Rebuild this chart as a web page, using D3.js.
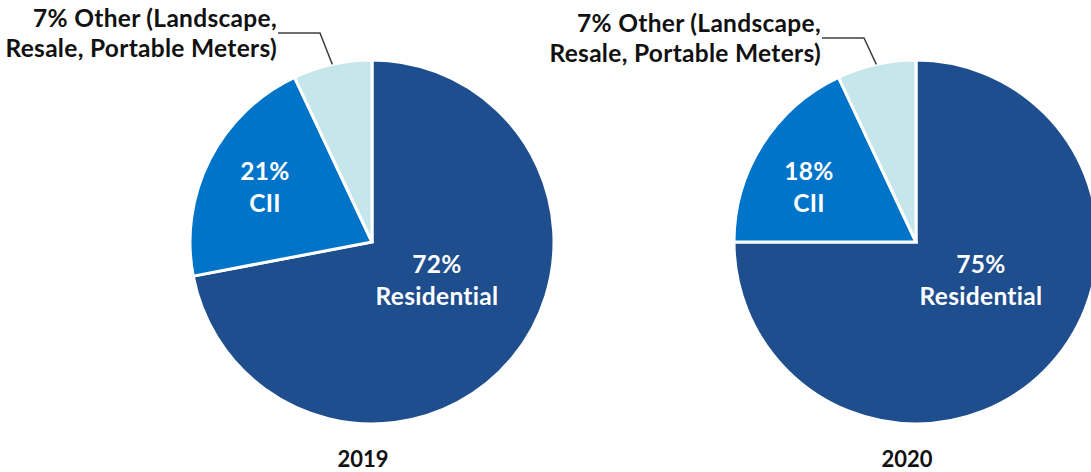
<!DOCTYPE html>
<html><head><meta charset="utf-8">
<script src="https://cdn.jsdelivr.net/npm/d3@7"></script>
<style>body{margin:0;background:#fff}svg{display:block}text{font-family:Lato,"Open Sans",sans-serif;font-weight:bold}</style>
</head><body>
<script>
const years = ["2019", "2020"];
const categories = ["Residential", "CII", "Other (Landscape, Resale, Portable Meters)"];
const values2019 = [72, 21, 7];
const values2020 = [75, 18, 7];
const colors = ["#1F4E8E", "#0074C8", "#C5E6EA"];

const W = 1091, H = 472;
const svg = d3.select("body").append("svg").attr("width", W).attr("height", H);
const R = 182;
const centers = [[372, 242], [916, 242]];
const datasets = [values2019, values2020];
const pie = d3.pie().sort(null).value(d => d);
const arc = d3.arc().innerRadius(0).outerRadius(R);

datasets.forEach((vals, i) => {
  const [cx, cy] = centers[i];
  const g = svg.append("g").attr("transform", `translate(${cx},${cy})`);
  const arcs = pie(vals);
  g.selectAll("path").data(arcs).join("path")
    .attr("d", arc).attr("fill", (d, j) => colors[j])
    .attr("stroke", "#fff").attr("stroke-width", 3).attr("stroke-linejoin", "miter");
  // inner labels
  const lblPos = [[65, 31], [-107, -62]];
  [0, 1].forEach(j => {
    const t = g.append("text").attr("text-anchor", "middle").attr("fill", "#fff")
      .attr("font-size", 24.5).attr("letter-spacing", 0.3);
    t.append("tspan").attr("x", lblPos[j][0]).attr("y", lblPos[j][1]).text(vals[j] + "%");
    t.append("tspan").attr("x", lblPos[j][0]).attr("y", lblPos[j][1] + 32).text(j === 0 ? "Residential" : "CII");
  });
  // outer label for Other
  const o = arcs[2];
  const mid = (o.startAngle + o.endAngle) / 2;
  const ex = R * Math.sin(mid), ey = -R * Math.cos(mid);
  const dy = i === 0 ? 0 : 5;
  const ly = -209 + dy;
  g.append("path")
    .attr("d", `M${-94},${ly}L${-52},${ly}L${ex},${ey}`)
    .attr("fill", "none").attr("stroke", "#404040").attr("stroke-width", 1.5);
  const t = g.append("text").attr("text-anchor", "end").attr("fill", "#111")
    .attr("font-size", 24.5).attr("letter-spacing", 0.3);
  t.append("tspan").attr("x", -95).attr("y", -215 + dy).text(vals[2] + "% Other (Landscape,");
  t.append("tspan").attr("x", -95).attr("y", -185 + dy).text("Resale, Portable Meters)");
  svg.append("text").attr("x", cx - 9).attr("y", 467).attr("text-anchor", "middle")
    .attr("fill", "#111").attr("font-size", 22).text(years[i]);
});
</script>
</body></html>
